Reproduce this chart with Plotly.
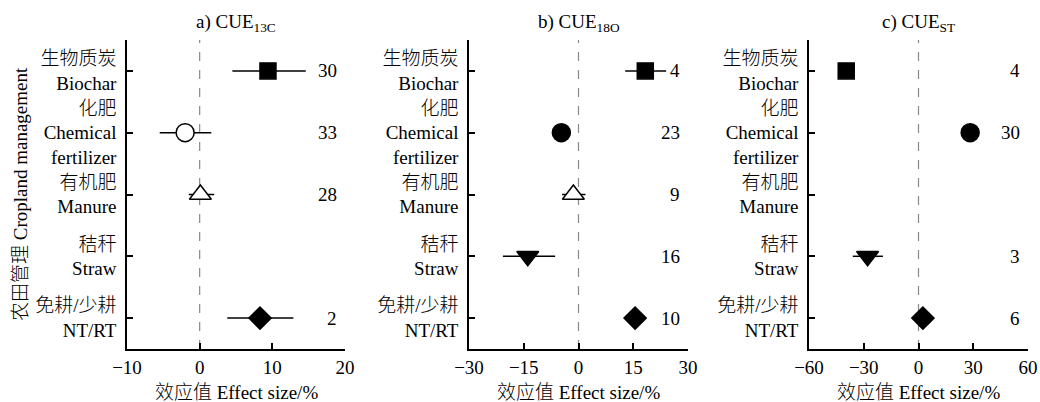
import plotly.graph_objects as go

# ---------------- data ----------------
categories = ["生物质炭<br>Biochar", "化肥<br>Chemical<br>fertilizer", "有机肥<br>Manure",
              "秸秆<br>Straw", "免耕/少耕<br>NT/RT"]
symbols = ["square", "circle", "triangle-up", "triangle-down", "diamond"]

panel_titles = ["a) CUE<sub>13C</sub>", "b) CUE<sub>18O</sub>", "c) CUE<sub>ST</sub>"]

a_mean = [9.4, -2.0, 0.1, None, 8.3]
a_lo = [4.5, -5.5, -1.5, None, 3.8]
a_hi = [14.6, 1.6, 2.0, None, 12.9]
a_n = [30, 33, 28, None, 2]
a_fill = ["black", "white", "white", "black", "black"]

b_mean = [18.3, -4.7, -1.4, -13.9, 15.5]
b_lo = [12.8, -4.7, -4.5, -20.7, 15.5]
b_hi = [24.0, -4.7, 1.9, -6.4, 15.5]
b_n = [4, 23, 9, 16, 10]
b_fill = ["black", "black", "white", "black", "black"]

c_mean = [-39.6, 28.3, None, -27.9, 2.4]
c_lo = [-39.6, 28.3, None, -36.0, 2.4]
c_hi = [-39.6, 28.3, None, -19.5, 2.4]
c_n = [4, 30, None, 3, 6]
c_fill = ["black", "black", "white", "black", "black"]

x_ranges = [[-10, 20], [-30, 30], [-60, 60]]
x_ticks = [[-10, 0, 10, 20], [-30, -15, 0, 15, 30], [-60, -30, 0, 30, 60]]

panels = [
    (a_mean, a_lo, a_hi, a_n, a_fill),
    (b_mean, b_lo, b_hi, b_n, b_fill),
    (c_mean, c_lo, c_hi, c_n, c_fill),
]

# ---------------- layout geometry ----------------
W, H = 1040, 402
x_domains_px = [(127, 345), (469, 688), (809, 1028)]
y_top_px, y_bot_px = 40, 349
y_dom = [1 - y_bot_px / H, 1 - y_top_px / H]

FONT = "Liberation Serif, Noto Sans CJK SC, serif"
FS = 19
FW = 300


def F():
    return dict(family=FONT, size=FS, color="black", weight=FW)


sizes = {"square": 16, "circle": 18, "triangle-up": 19, "triangle-down": 19, "diamond": 17}

fig = go.Figure()
annotations = []
shapes = []

for i, (mean, lo, hi, n, fill) in enumerate(panels):
    xa = "x" if i == 0 else f"x{i+1}"
    ya = "y" if i == 0 else f"y{i+1}"
    xs, ys, plus, minus, syms, cols, szs = [], [], [], [], [], [], []
    for j in range(len(categories)):
        if mean[j] is None:
            continue
        xs.append(mean[j])
        ys.append(j)
        plus.append(hi[j] - mean[j])
        minus.append(mean[j] - lo[j])
        syms.append(symbols[j])
        cols.append(fill[j])
        szs.append(sizes[symbols[j]])
    fig.add_trace(go.Scatter(
        x=xs, y=ys, mode="markers", xaxis=xa, yaxis=ya, showlegend=False,
        marker=dict(symbol=syms, color=cols, size=szs, opacity=1,
                    line=dict(color="black", width=1.5)),
        error_x=dict(type="data", symmetric=False, array=plus, arrayminus=minus,
                     width=0, thickness=1.5, color="black"),
    ))
    # n labels
    for j in range(len(categories)):
        if n[j] is None:
            continue
        annotations.append(dict(
            x=0.973, y=j, xref=f"{xa} domain", yref=ya, text=str(n[j]),
            showarrow=False, xanchor="right", yanchor="middle", font=F()))
    # zero dashed line
    shapes.append(dict(type="line", xref=xa, yref=f"{ya} domain", x0=0, x1=0, y0=0, y1=1,
                       line=dict(color="#888888", width=1.2, dash="dash"), layer="below"))
    x0p, x1p = x_domains_px[i]
    dom = [x0p / W, x1p / W]
    axis_common = dict(showline=True, linecolor="black", linewidth=1.5, ticks="inside",
                       ticklen=6, tickwidth=1.5, tickcolor="black", showgrid=False,
                       zeroline=False, automargin=False, tickfont=F())
    fig.update_layout(**{
        ("xaxis" if i == 0 else f"xaxis{i+1}"): dict(
            domain=dom, range=x_ranges[i], tickvals=x_ticks[i], anchor=ya, **axis_common),
        ("yaxis" if i == 0 else f"yaxis{i+1}"): dict(
            domain=y_dom, range=[4.5, -0.5], tickvals=list(range(5)), ticktext=categories,
            anchor=xa, ticklabelstandoff=5, **axis_common),
    })
    cx = (x0p + x1p) / 2 / W
    annotations.append(dict(x=cx, y=1 - 23 / H, xref="paper", yref="paper",
                            text=panel_titles[i], showarrow=False, xanchor="center",
                            yanchor="middle", font=F()))
    annotations.append(dict(x=cx, y=1 - 392 / H, xref="paper", yref="paper",
                            text="效应值 Effect size/%", showarrow=False, xanchor="center",
                            yanchor="middle", font=F()))

annotations.append(dict(x=20 / W, y=1 - 194 / H, xref="paper", yref="paper",
                        text="农田管理 Cropland management", showarrow=False, textangle=-90,
                        xanchor="center", yanchor="middle", font=F()))

fig.update_layout(width=W, height=H, margin=dict(l=0, r=0, t=0, b=0, autoexpand=False),
                  paper_bgcolor="white", plot_bgcolor="white",
                  annotations=annotations, shapes=shapes, font=F())

fig.write_html("out.html")
